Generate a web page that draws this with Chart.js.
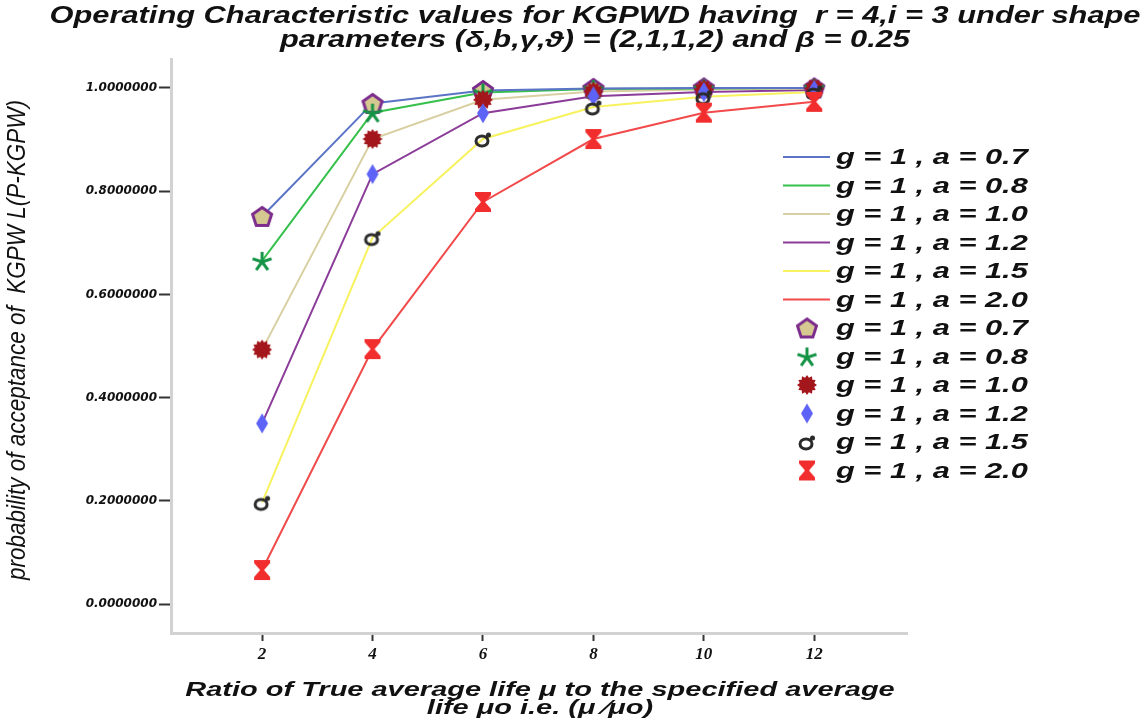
<!DOCTYPE html>
<html>
<head>
<meta charset="utf-8">
<script src="https://cdn.jsdelivr.net/npm/chart.js@4.4.0/dist/chart.umd.min.js"></script>
<style>
  html, body { margin: 0; padding: 0; background: #fff; }
  #wrap { width: 1148px; height: 724px; }
</style>
</head>
<body>
<div id="wrap"><canvas id="ocChart" width="1148" height="724"></canvas></div>
<script>
// ! data
const ratios = [2, 4, 6, 8, 10, 12];
const xTicks = [2, 4, 6, 8, 10, 12];
const yTicks = [0, 0.2, 0.4, 0.6, 0.8, 1.0];

const pA07 = [0.751, 0.970, 0.995, 0.999, 1.000, 1.000];
const pA08 = [0.665, 0.952, 0.991, 0.998, 0.999, 1.000];
const pA10 = [0.493, 0.901, 0.977, 0.993, 0.997, 0.999];
const pA12 = [0.350, 0.833, 0.951, 0.984, 0.992, 0.996];
const pA15 = [0.197, 0.710, 0.901, 0.963, 0.983, 0.992];
const pA20 = [0.066, 0.494, 0.779, 0.901, 0.952, 0.973];

const seriesNames = [
  "g = 1 , a = 0.7",
  "g = 1 , a = 0.8",
  "g = 1 , a = 1.0",
  "g = 1 , a = 1.2",
  "g = 1 , a = 1.5",
  "g = 1 , a = 2.0",
];
const seriesValues = [pA07, pA08, pA10, pA12, pA15, pA20];

const titleLines = [
  "Operating Characteristic values for KGPWD having  r = 4,i = 3 under shape",
  "parameters (\u03B4,b,\u03B3,\u03D1) = (2,1,1,2) and \u03B2 = 0.25",
];
const xTitleLines = [
  "Ratio of True average life \u03BC to the specified average",
  "life \u03BCo i.e. (\u03BC \u2044\u03BCo)",
];
const yTitle = "probability of acceptance of  KGPW L(P-KGPW)";

// ! styles
const lineColors = ["#5b74c6", "#36c04c", "#d8d0a2", "#8a3c98", "#f7f25e", "#f24a4a"];

function makeCanvas(w, h) {
  const cv = document.createElement("canvas");
  cv.width = w;
  cv.height = h;
  return cv;
}

// pentagon
function pentagonMark() {
  const cv = makeCanvas(26, 25);
  const c = cv.getContext("2d");
  c.beginPath();
  for (let k = 0; k < 5; k++) {
    const a = -Math.PI / 2 + k * 2 * Math.PI / 5;
    const px = 13 + 10 * Math.cos(a), py = 13.5 + 10 * Math.sin(a);
    k === 0 ? c.moveTo(px, py) : c.lineTo(px, py);
  }
  c.closePath();
  c.fillStyle = "#d5c890";
  c.fill();
  c.lineWidth = 3;
  c.strokeStyle = "#7c2c8c";
  c.stroke();
  return cv;
}

// 5 arm asterisk
function asteriskMark() {
  const cv = makeCanvas(24, 24);
  const c = cv.getContext("2d");
  c.strokeStyle = "#159446";
  c.lineWidth = 3;
  for (let k = 0; k < 5; k++) {
    const a = -Math.PI / 2 + k * 2 * Math.PI / 5;
    c.beginPath();
    c.moveTo(12, 13);
    c.lineTo(12 + 10 * Math.cos(a), 13 + 10 * Math.sin(a));
    c.stroke();
  }
  return cv;
}

// burst
function burstMark() {
  const cv = makeCanvas(22, 22);
  const c = cv.getContext("2d");
  c.beginPath();
  const n = 12;
  for (let k = 0; k < n * 2; k++) {
    const r = k % 2 === 0 ? 10 : 7.5;
    const a = -Math.PI / 2 + k * Math.PI / n;
    const px = 11 + r * Math.cos(a), py = 11 + r * Math.sin(a);
    k === 0 ? c.moveTo(px, py) : c.lineTo(px, py);
  }
  c.closePath();
  c.fillStyle = "#a3171c";
  c.fill();
  return cv;
}

// diamond
function diamondMark() {
  const cv = makeCanvas(14, 22);
  const c = cv.getContext("2d");
  c.beginPath();
  c.moveTo(7, 1);
  c.lineTo(13, 11);
  c.lineTo(7, 21);
  c.lineTo(1, 11);
  c.closePath();
  c.fillStyle = "#5d63f6";
  c.fill();
  return cv;
}

// male sign
function maleMark() {
  const cv = makeCanvas(22, 22);
  const c = cv.getContext("2d");
  c.strokeStyle = "#2b2b2b";
  c.fillStyle = "#2b2b2b";
  c.lineWidth = 3;
  c.beginPath();
  c.ellipse(10, 13, 6, 5, 0, 0, Math.PI * 2);
  c.stroke();
  c.beginPath();
  c.moveTo(14, 9.5);
  c.lineTo(16.5, 7);
  c.stroke();
  c.beginPath();
  c.arc(16.5, 7, 2.5, 0, Math.PI * 2);
  c.fill();
  return cv;
}

// hourglass
function hourglassMark() {
  const cv = makeCanvas(20, 22);
  const c = cv.getContext("2d");
  c.beginPath();
  c.moveTo(2, 1);
  c.lineTo(18, 1);
  c.lineTo(18, 4);
  c.lineTo(12, 11);
  c.lineTo(18, 18);
  c.lineTo(18, 21);
  c.lineTo(2, 21);
  c.lineTo(2, 18);
  c.lineTo(8, 11);
  c.lineTo(2, 4);
  c.closePath();
  c.fillStyle = "#f22d2d";
  c.fill();
  return cv;
}

const markers = [pentagonMark(), asteriskMark(), burstMark(), diamondMark(), maleMark(), hourglassMark()];

const toPoints = (vals) => ratios.map((x, i) => ({ x: x, y: vals[i] }));

const datasets = [];
seriesValues.forEach((vals, i) => {
  datasets.push({
    label: seriesNames[i],
    data: toPoints(vals),
    showLine: true,
    borderColor: lineColors[i],
    borderWidth: 2,
    pointRadius: 0,
    pointHoverRadius: 0,
    order: 20 + i,
  });
});
seriesValues.forEach((vals, i) => {
  datasets.push({
    label: seriesNames[i],
    data: toPoints(vals),
    showLine: false,
    pointStyle: markers[i],
    pointRadius: 10,
    order: 10 - i,
  });
});

function stretchText(c, text, x, y, sx, align) {
  c.save();
  c.translate(x, y);
  c.scale(sx, 1);
  c.textAlign = align;
  c.fillText(text, 0, 0);
  c.restore();
}

const textPlugin = {
  id: "textPlugin",
  afterDraw(chart) {
    const c = chart.ctx;
    c.save();
    c.fillStyle = "#111";
    c.textBaseline = "middle";

    // title
    c.font = "italic bold 23px 'Liberation Sans'";
    stretchText(c, titleLines[0], 595, 17, 1.34, "center");
    stretchText(c, titleLines[1], 595, 41, 1.34, "center");

    // x axis title
    c.font = "italic bold 21px 'Liberation Sans'";
    stretchText(c, xTitleLines[0], 540, 690, 1.38, "center");
    stretchText(c, xTitleLines[1], 540, 708, 1.38, "center");

    // y axis title
    c.save();
    c.translate(18, 340);
    c.rotate(-Math.PI / 2);
    c.scale(1, 1.15);
    c.font = "italic 22.5px 'Liberation Sans'";
    c.textAlign = "center";
    c.fillText(yTitle, 0, 0);
    c.restore();

    // legend
    c.font = "italic bold 22px 'Liberation Sans'";
    for (let i = 0; i < 12; i++) {
      const y = 157 + i * 28.5;
      const s = i % 6;
      if (i < 6) {
        c.strokeStyle = lineColors[s];
        c.lineWidth = 2;
        c.beginPath();
        c.moveTo(783, y);
        c.lineTo(830, y);
        c.stroke();
      } else {
        const m = markers[s];
        c.drawImage(m, 807 - m.width / 2, y - m.height / 2);
      }
      stretchText(c, seriesNames[s], 836, y + 1, 1.4, "left");
    }
    c.restore();
  },
};

new Chart(document.getElementById("ocChart"), {
  type: "scatter",
  data: { datasets: datasets },
  options: {
    responsive: false,
    animation: false,
    layout: { padding: { top: 59, right: 241, left: 0, bottom: 0 } },
    plugins: {
      legend: { display: false },
      title: { display: false },
      tooltip: { enabled: false },
    },
    scales: {
      x: {
        type: "linear",
        min: 0.35,
        max: 13.68,
        afterBuildTicks: (s) => { s.ticks = xTicks.map((v) => ({ value: v })); },
        afterFit: (s) => { s.height = 91; },
        border: { display: true, color: "#d2d2d2", width: 3 },
        grid: { drawOnChartArea: false, drawTicks: true, tickLength: 8, tickColor: "#333", tickWidth: 2 },
        ticks: {
          color: "#111",
          padding: 3,
          maxRotation: 0,
          font: { family: "'Liberation Serif'", size: 17, style: "italic", weight: "bold" },
        },
      },
      y: {
        type: "linear",
        min: -0.056,
        max: 1.056,
        afterBuildTicks: (s) => { s.ticks = yTicks.map((v) => ({ value: v })); },
        afterFit: (s) => { s.width = 171; },
        border: { display: true, color: "#d2d2d2", width: 3 },
        grid: { drawOnChartArea: false, drawTicks: true, tickLength: 12, tickColor: "#333", tickWidth: 2 },
        ticks: {
          color: "#111",
          padding: 2,
          callback: (v) => v.toFixed(7),
          font: { family: "'DejaVu Sans'", size: 12, style: "italic", weight: "bold" },
        },
      },
    },
  },
  plugins: [textPlugin],
});
</script>
</body>
</html>
